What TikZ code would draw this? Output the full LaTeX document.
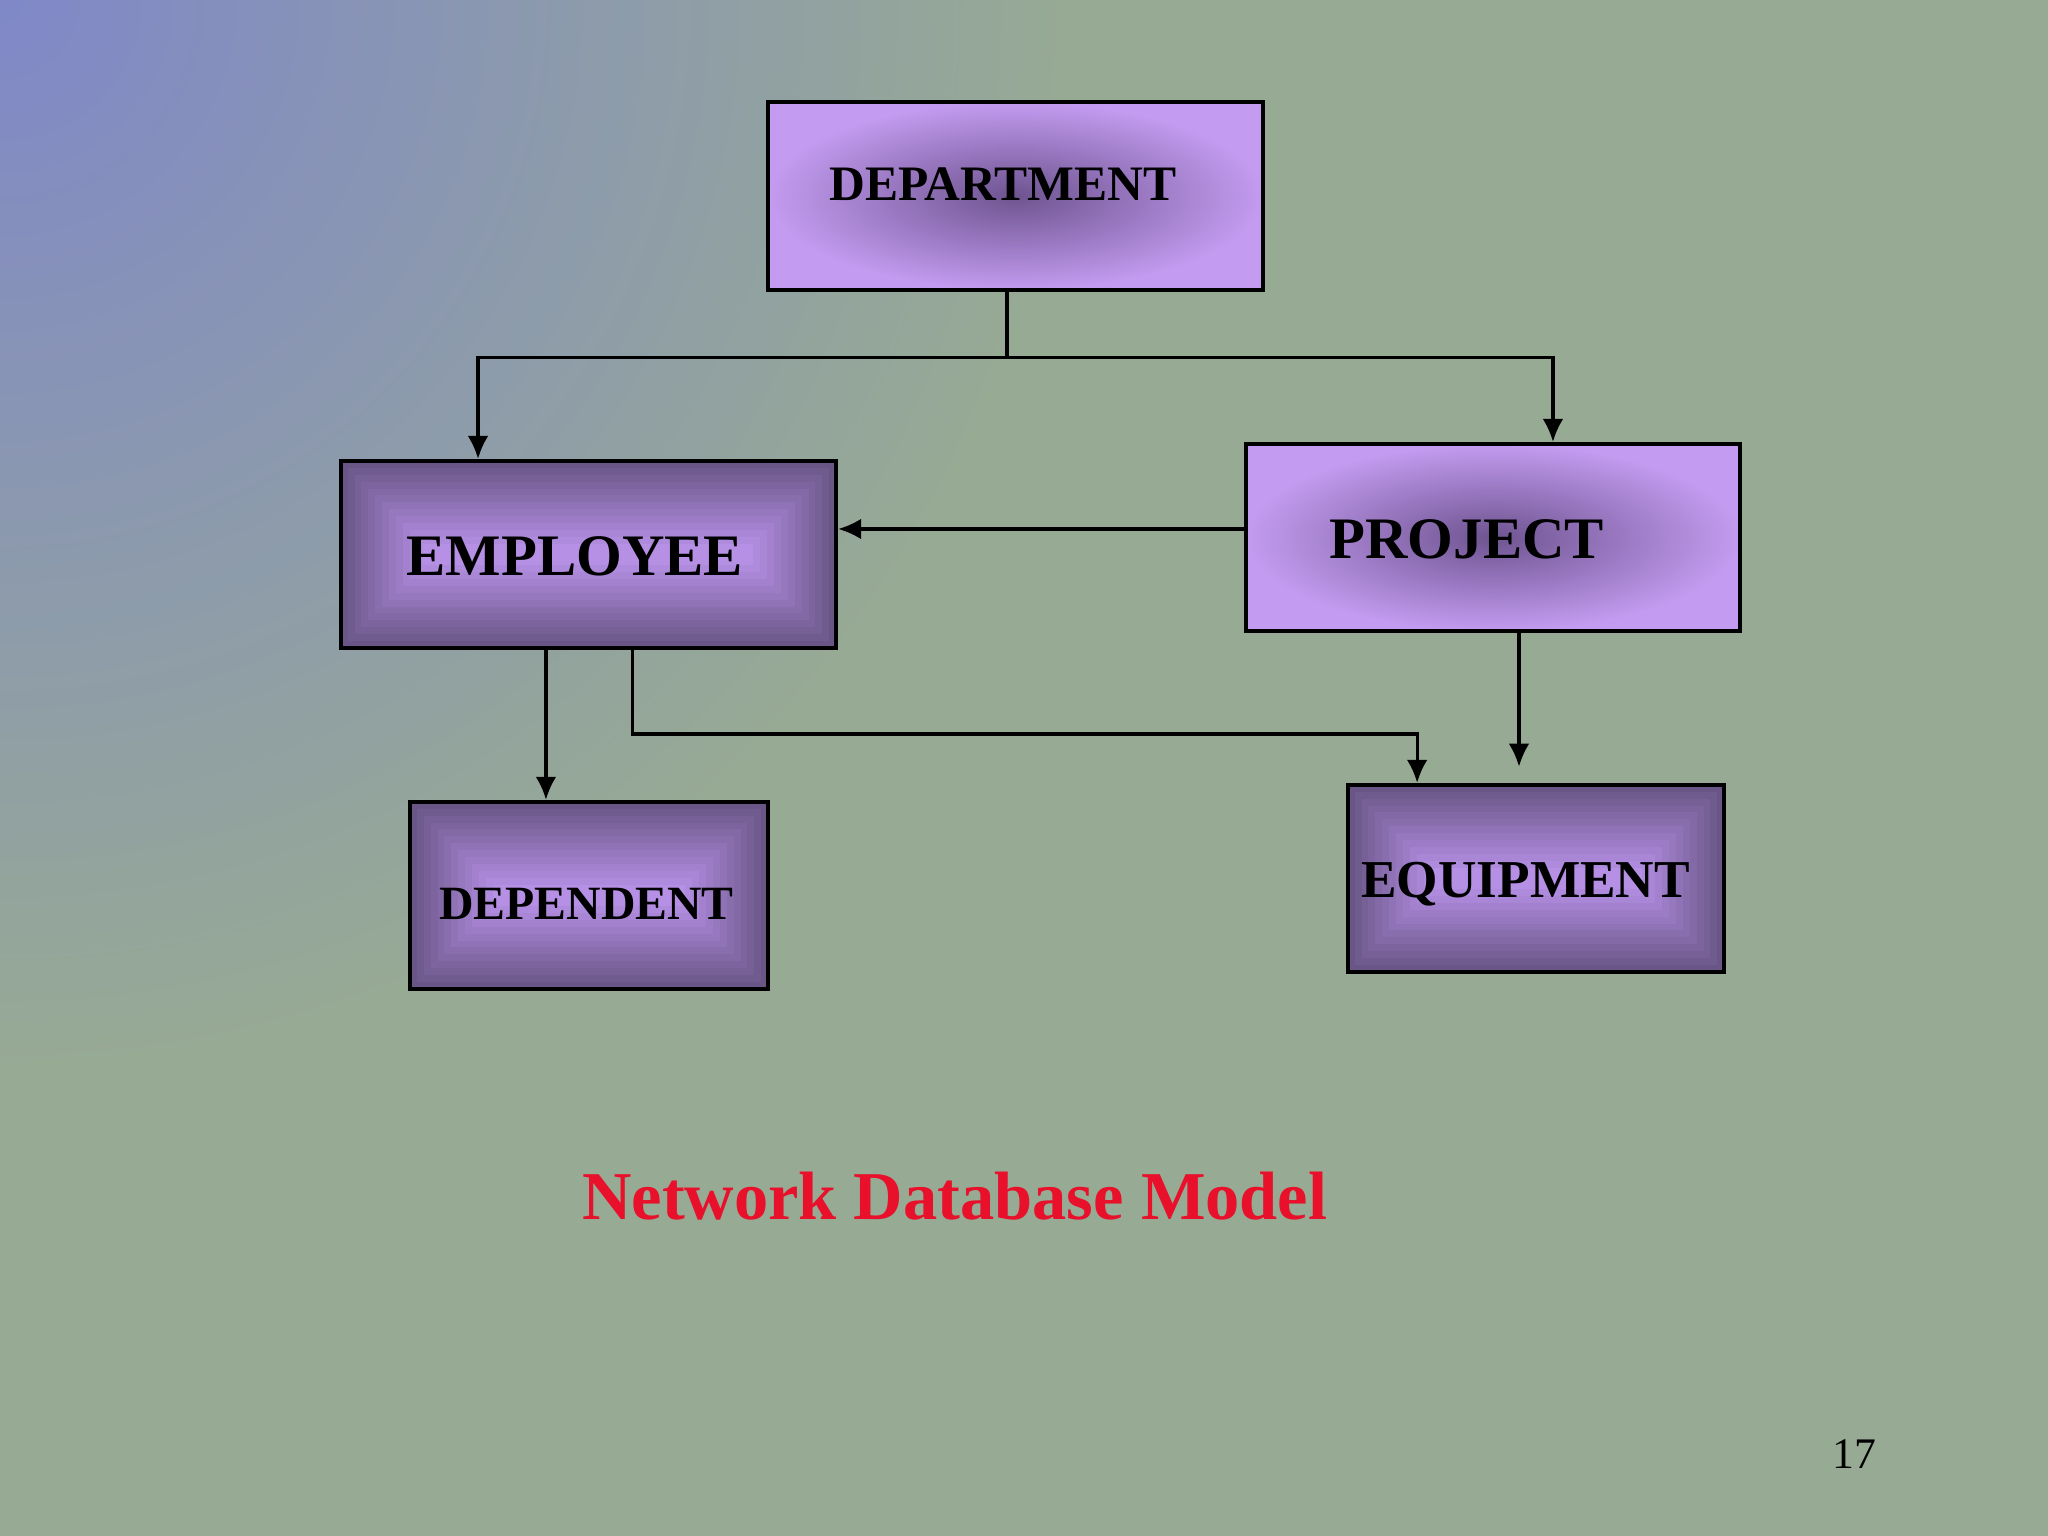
\documentclass[tikz,border=0pt]{standalone}
\usepackage{fontspec}
\setmainfont{Liberation Serif}
\usetikzlibrary{arrows.meta,calc}
\definecolor{bg}{HTML}{97AA94}
\definecolor{bgblue}{HTML}{8088C8}
\definecolor{plight}{HTML}{C39BF0}
\definecolor{pdark}{HTML}{6E5490}
\definecolor{qlight}{HTML}{B690E6}
\definecolor{qdark}{HTML}{6A5686}
\definecolor{titlered}{HTML}{E8102A}
\tikzset{
  boxA/.style={draw=black, line width=0.9pt, inner sep=0pt, inner color=pdark, outer color=plight},
  boxB/.style={draw=black, line width=0.9pt, inner sep=0pt,
    path picture={
      \foreach \k [evaluate=\k as \p using {100-\k*8.3}] in {0,...,12}{
        \fill[qdark!\p!qlight] ($(path picture bounding box.south west)+(\k*1.5pt,\k*1.5pt)$) rectangle ($(path picture bounding box.north east)-(\k*1.5pt,\k*1.5pt)$);
      }
    }},
  lbl/.style={font=\bfseries, inner sep=0pt},
  conn/.style={line width=0.7pt},
  arr/.style={conn, -{Latex[length=5pt,width=4.5pt]}}
}
\begin{document}
\begin{tikzpicture}[x=0.01cm,y=-0.01cm]
\useasboundingbox (0,0) rectangle (1568,1176);
\fill[bg] (0,0) rectangle (1568,1176);
\begin{scope}
\clip (0,0) rectangle (1568,1176);
\shade[inner color=bgblue, outer color=bg] (0,0) circle (820);
\end{scope}
\node[boxA, minimum width=3.79cm, minimum height=1.44cm] (dep) at (777.5,150) {};
\node[boxB, minimum width=3.79cm, minimum height=1.43cm] (emp) at (450.5,424.5) {};
\node[boxA, minimum width=3.78cm, minimum height=1.43cm] (proj) at (1143,411.5) {};
\node[boxB, minimum width=2.74cm, minimum height=1.43cm] (dpd) at (451,685.5) {};
\node[boxB, minimum width=2.88cm, minimum height=1.43cm] (eq) at (1176,672.5) {};
\node[lbl, font=\bfseries\fontsize{10.8}{13}\selectfont] (depl) at (768,141) {DEPARTMENT};
\node[lbl, font=\bfseries\fontsize{12.8}{15}\selectfont] (empl) at (440,426) {EMPLOYEE};
\node[lbl, font=\bfseries\fontsize{12.8}{15}\selectfont] (projl) at (1123,413) {PROJECT};
\node[lbl, font=\bfseries\fontsize{10.4}{12}\selectfont] (dpdl) at (449,692) {DEPENDENT};
\node[lbl, font=\bfseries\fontsize{11.6}{14}\selectfont] (eql) at (1168,677) {EQUIPMENT};
\coordinate (j) at (771,274);
\draw[conn] (dep.south -| j) -- (j);
\draw[arr] (j) -| (emp.north -| 366,0);
\draw[arr] (j) -| (proj.north -| 1189,0);
\draw[arr] (proj.west |- 0,405) -- (emp.east |- 0,405);
\draw[arr] (emp.south -| 418,0) -- (dpd.north -| 418,0);
\draw[arr] (emp.south -| 484,0) |- (1085,562) -- (eq.north -| 1085,0);
\coordinate (pe) at (1163,587);
\draw[arr] (proj.south -| pe) -- (pe);
\node[text=titlered, font=\bfseries\fontsize{14.9}{18}\selectfont] (title) at (731,916) {Network Database Model};
\node[font=\fontsize{9.5}{12}\selectfont] (pg) at (1420,1113) {17};
\end{tikzpicture}
\end{document}
